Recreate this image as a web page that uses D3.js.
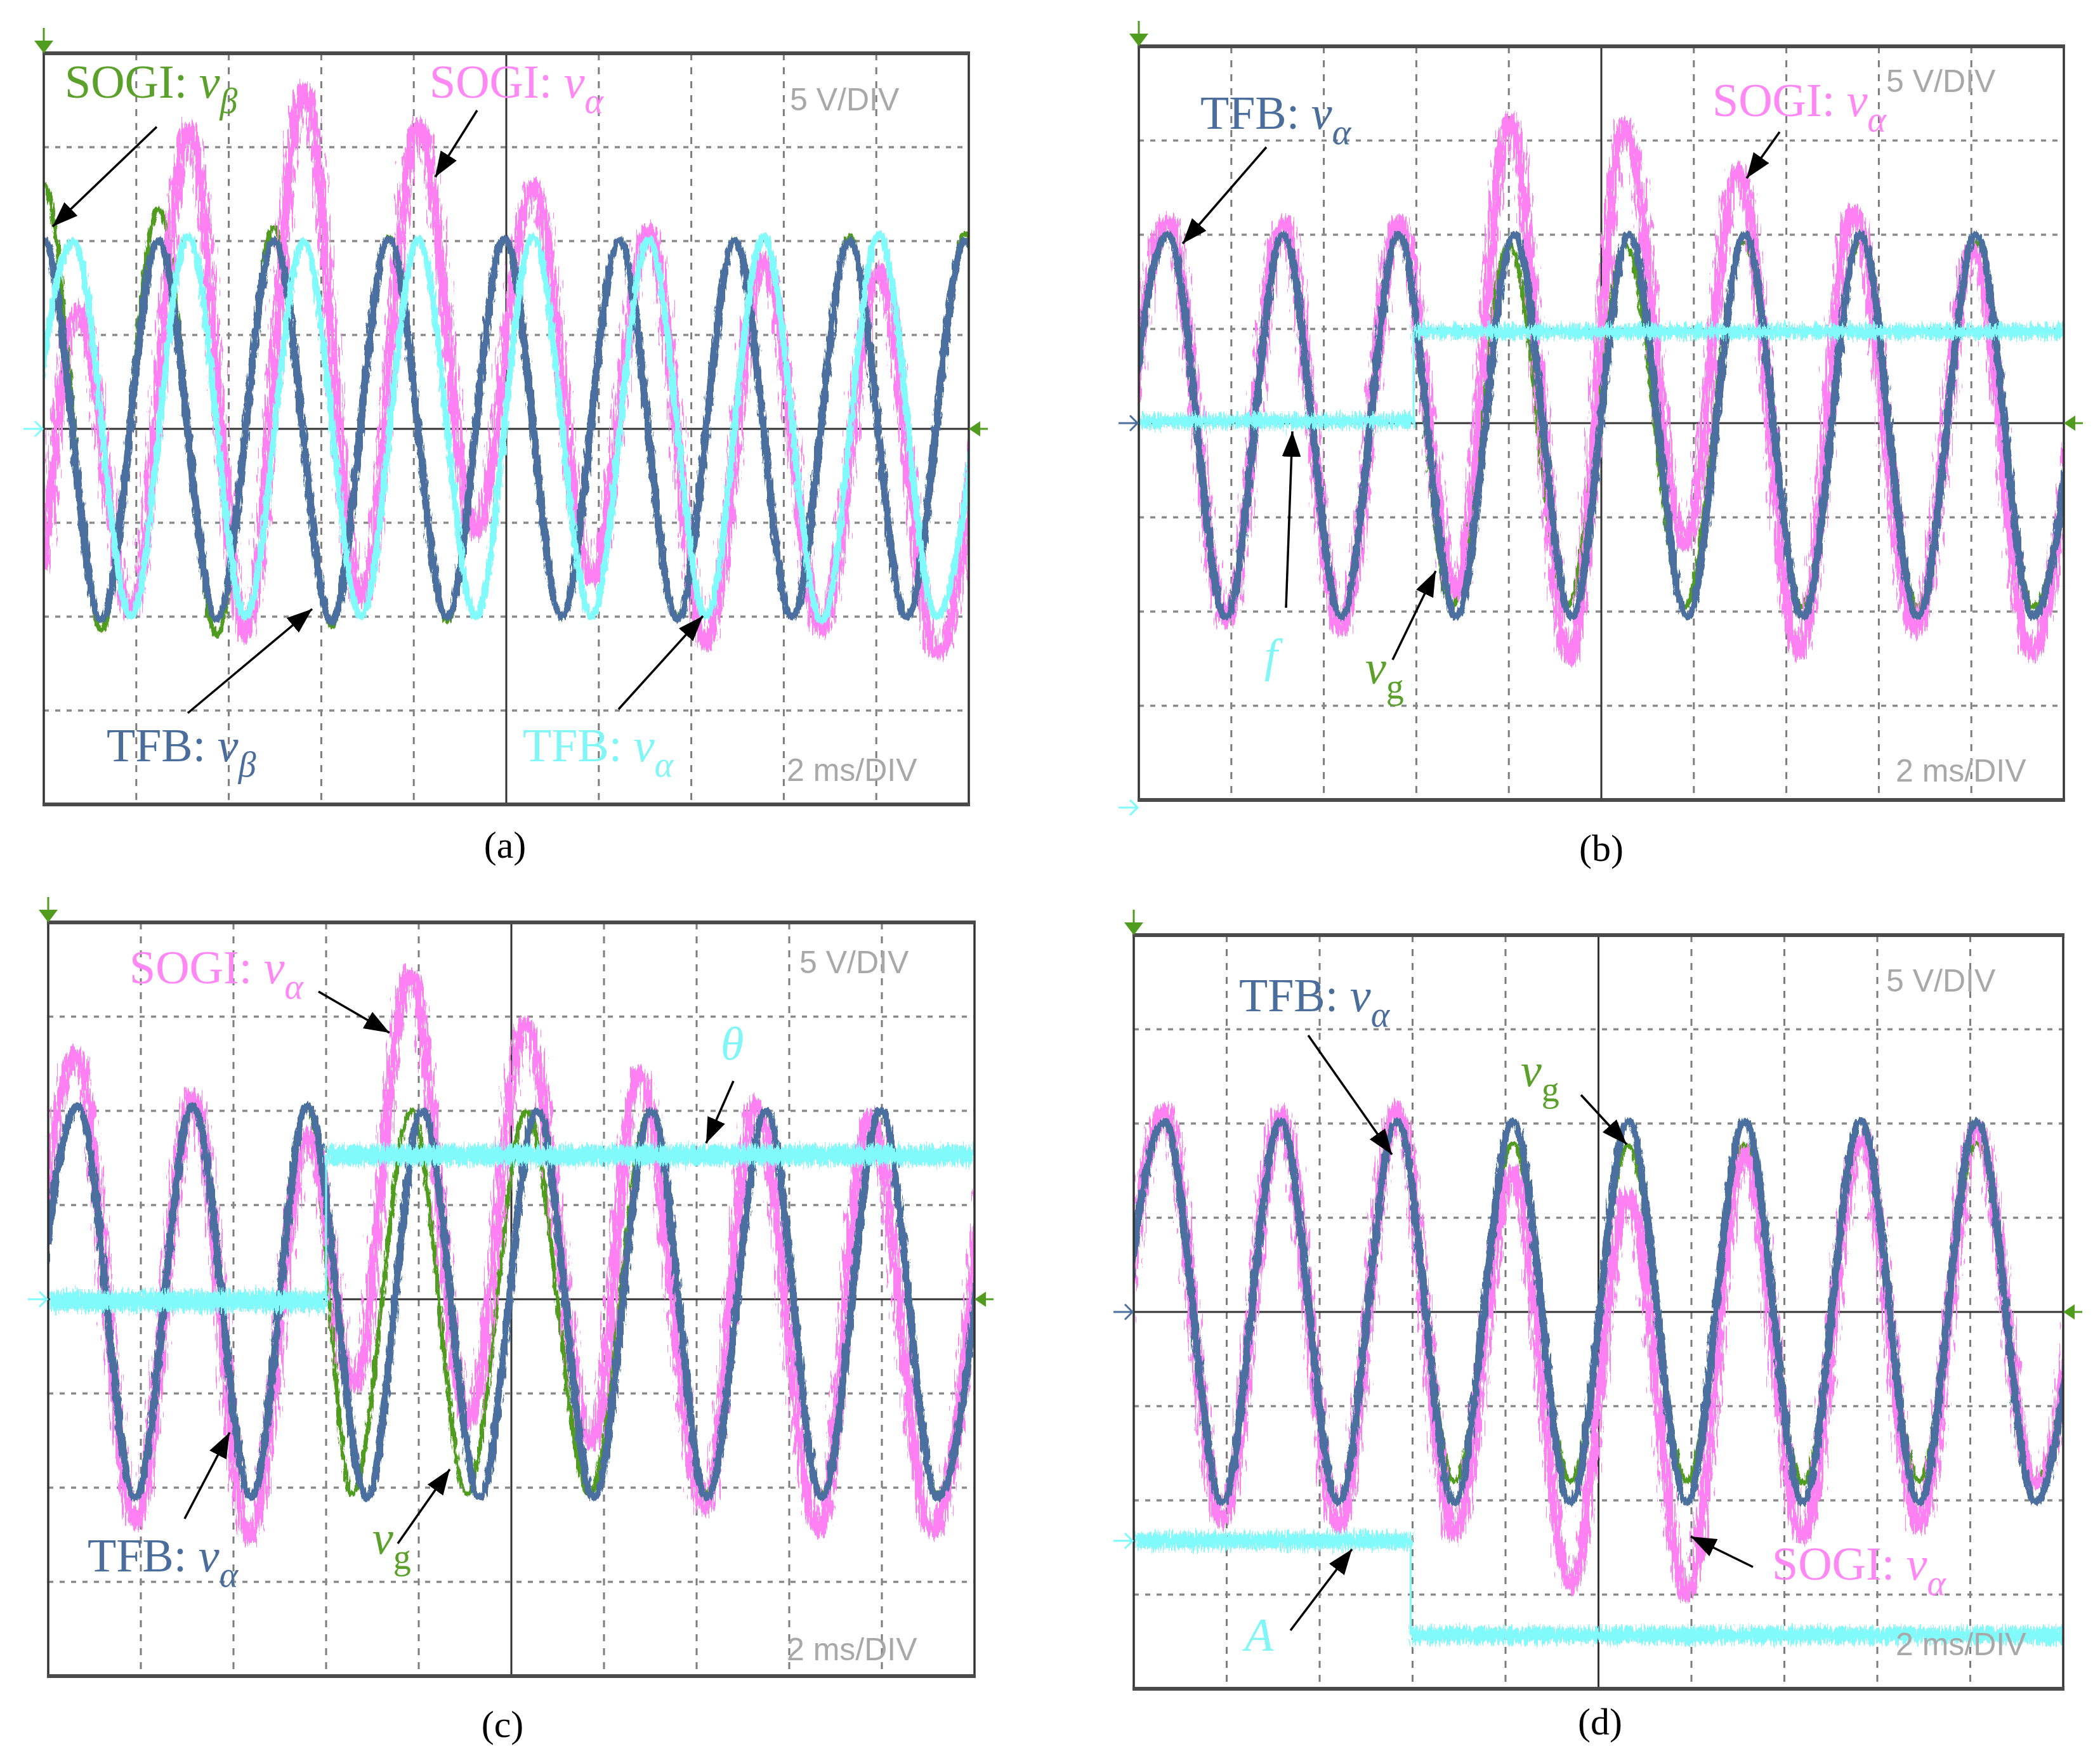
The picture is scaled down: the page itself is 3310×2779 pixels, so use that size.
<!DOCTYPE html>
<html>
<head>
<meta charset="utf-8">
<script src="https://cdn.jsdelivr.net/npm/d3@7"></script>
<style>
  body { margin: 0; background: #fff; }
</style>
</head>
<body>
<svg id="fig" width="3310" height="2779"></svg>
<script>
// ---- trace data, in scope divisions (x: 0..10 div, y: -4..4 div) ----
// each sine-like trace is given by its extrema

// (a)
const aBlueT = [-0.62, 0, 0.62, 1.24, 1.87, 2.49, 3.11, 3.73, 4.36, 4.98, 5.6, 6.22, 6.85, 7.47, 8.09, 8.71, 9.33, 9.96, 10.58];
const aBlueV = [-2, 2, -2.03, 2, -2.02, 2, -2.05, 2.02, -2, 2.02, -2, 2, -2.02, 2, -2, 2, -2, 2, -2];
const aGreenV = [-2.1, 2.6, -2.15, 2.35, -2.2, 2.15, -2.1, 2.05, -2.05, 2.02, -2.02, 2, -2, 2.02, -2, 2.05, -2, 2.08, -2];
const aCyanT = [-0.31, 0.32, 0.94, 1.56, 2.18, 2.81, 3.43, 4.05, 4.67, 5.29, 5.92, 6.54, 7.16, 7.78, 8.41, 9.03, 9.65, 10.27];
const aCyanV = [-2, 2, -2, 2.05, -2, 2, -2, 2.02, -2, 2.05, -2, 2.02, -2, 2.05, -2.05, 2.08, -2, 2];
const aPinkT = [0, 0.37, 0.94, 1.57, 2.18, 2.81, 3.43, 4.05, 4.67, 5.29, 5.92, 6.54, 7.16, 7.78, 8.41, 9.03, 9.65, 10.27];
const aPinkV = [-1.5, 1.28, -1.95, 3.21, -2.2, 3.63, -1.85, 3.24, -1.1, 2.6, -1.6, 2.12, -2.3, 1.82, -2.15, 1.7, -2.4, 1.7];

// (b)
const bBlueT = [-0.31, 0.315, 0.94, 1.56, 2.19, 2.81, 3.43, 4.06, 4.68, 5.3, 5.93, 6.55, 7.18, 7.8, 8.42, 9.05, 9.67, 10.29];
const bBlueV = [-2.05, 2, -2.05, 2, -2.05, 2, -2.05, 2, -2.05, 2, -2.05, 2, -2.05, 2, -2.05, 2, -2.05, 2];
const bGreenT = [-0.31, 0.315, 0.94, 1.56, 2.19, 2.81, 3.38, 4.0, 4.63, 5.26, 5.9, 6.53, 7.17, 7.8, 8.42, 9.05, 9.67, 10.29];
const bGreenV = [-2.05, 2, -2.05, 2, -2.05, 2, -1.95, 1.9, -1.95, 1.9, -1.95, 1.92, -1.95, 1.92, -1.95, 1.92, -1.95, 1.92];
const bPinkT = [-0.31, 0.315, 0.94, 1.56, 2.19, 2.81, 3.43, 4.01, 4.66, 5.25, 5.9, 6.48, 7.14, 7.72, 8.4, 9.02, 9.65, 10.27];
const bPinkV = [-2.1, 2.15, -2.12, 2.15, -2.2, 2.15, -1.8, 3.23, -2.5, 3.17, -1.3, 2.69, -2.45, 2.27, -2.2, 1.86, -2.45, 1.9];
const bFreqT = [0, 2.97, 2.97, 10];
const bFreqV = [0.02, 0.02, 0.97, 0.97];

// (c)
const cBlueT = [-0.3, 0.32, 0.94, 1.56, 2.19, 2.8, 3.44, 4.04, 4.66, 5.28, 5.89, 6.51, 7.11, 7.75, 8.35, 8.99, 9.6, 10.22];
const cBlueV = [-2.05, 2.05, -2.1, 2.05, -2.1, 2.05, -2.1, 2, -2.1, 2, -2.1, 2, -2.1, 2, -2.1, 2, -2.1, 2];
const cGreenT = [-0.3, 0.32, 0.94, 1.56, 2.19, 2.8, 3.28, 3.92, 4.52, 5.16, 5.84, 6.49, 7.1, 7.74, 8.35, 8.99, 9.6, 10.22];
const cGreenV = [-2.05, 2.05, -2.1, 2.05, -2.1, 2.05, -2.07, 2, -2.07, 2, -2.07, 2, -2.07, 2, -2.07, 2, -2.07, 2];
const cPinkT = [-0.33, 0.3, 0.94, 1.56, 2.17, 2.81, 3.3, 3.9, 4.54, 5.15, 5.87, 6.37, 7.09, 7.63, 8.32, 8.87, 9.54, 10.15];
const cPinkV = [-2.3, 2.62, -2.37, 2.16, -2.54, 1.75, -0.93, 3.46, -1.31, 2.93, -1.52, 2.41, -2.24, 2.08, -2.45, 1.96, -2.47, 2.0];
const cThetaT = [0, 3.0, 3.0, 10];
const cThetaV = [-0.02, -0.02, 1.53, 1.53];

// (d)
const dBlueT = [-0.3, 0.33, 0.95, 1.58, 2.2, 2.83, 3.45, 4.08, 4.7, 5.32, 5.95, 6.57, 7.2, 7.82, 8.45, 9.07, 9.7, 10.32];
const dBlueV = [-2.02, 2.02, -2.02, 2.02, -2.02, 2.02, -2.02, 2.02, -2.02, 2.02, -2.02, 2.02, -2.02, 2.02, -2.02, 2.02, -2.02, 2.02];
const dGreenV = [-2.02, 2.02, -2.02, 2.02, -2.02, 2.02, -1.8, 1.79, -1.8, 1.77, -1.8, 1.78, -1.82, 1.8, -1.8, 1.8, -1.8, 1.8];
const dPinkV = [-2.2, 2.15, -2.23, 2.12, -2.3, 2.18, -2.37, 1.5, -2.91, 1.25, -3.01, 1.7, -2.4, 1.85, -2.28, 1.97, -1.85, 2.0];
const dAmpT = [0, 2.98, 2.98, 10];
const dAmpV = [-2.43, -2.43, -3.43, -3.43];

const BLUE = "#4b6f9e", PINK = "#ff80f2", CYAN = "#80fafa", GREEN = "#4f9c1e";
const GRAY = "#a8a8a8", BLUE_T = "#4a6d9c", PINK_T = "#ff88f5", CYAN_T = "#80f6f6", GREEN_T = "#5aa02a";

const svg = d3.select("#fig");
const defs = svg.append("defs");

// arrow head
defs.append("marker")
    .attr("id", "ah")
    .attr("viewBox", "0 0 10 10")
    .attr("refX", 10).attr("refY", 5)
    .attr("markerWidth", 40).attr("markerHeight", 30)
    .attr("markerUnits", "userSpaceOnUse")
    .attr("preserveAspectRatio", "none")
    .attr("orient", "auto")
    .append("path").attr("d", "M0,0 L10,5 L0,10 z").attr("fill", "#000");

// scope noise, a displacement of the stroke
function noiseFilter(id, freq, scale, seed) {
    const f = defs.append("filter").attr("id", id)
        .attr("filterUnits", "userSpaceOnUse")
        .attr("x", 0).attr("y", 0).attr("width", 3310).attr("height", 2779)
        .attr("color-interpolation-filters", "sRGB");
    f.append("feTurbulence").attr("type", "fractalNoise")
        .attr("baseFrequency", freq).attr("numOctaves", 2).attr("seed", seed).attr("result", "n");
    f.append("feDisplacementMap").attr("in", "SourceGraphic").attr("in2", "n")
        .attr("scale", scale).attr("xChannelSelector", "R").attr("yChannelSelector", "G");
}
noiseFilter("nzH", "0.35 0.03", 32, 3);
noiseFilter("nzL", "0.3 0.05", 10, 7);
noiseFilter("nzB", "0.45 0.05", 30, 11);

const panels = [
    {
        key: "a", x0: 69, y0: 84, w: 1458, h: 1184,
        sines: [
            { t: aBlueT, v: aGreenV, color: GREEN, width: 7, f: "nzL" },
            { t: aPinkT, v: aPinkV, color: PINK, width: 17, f: "nzH" },
            { t: aBlueT, v: aBlueV, color: BLUE, width: 12, f: "nzL" },
            { t: aCyanT, v: aCyanV, color: CYAN, width: 10, f: "nzL" }
        ],
        leftMarks: [{ v: 0, color: CYAN }]
    },
    {
        key: "b", x0: 1795, y0: 73, w: 1458, h: 1188,
        sines: [
            { t: bGreenT, v: bGreenV, color: GREEN, width: 7, f: "nzL" },
            { t: bPinkT, v: bPinkV, color: PINK, width: 17, f: "nzH" },
            { t: bBlueT, v: bBlueV, color: BLUE, width: 12, f: "nzL" }
        ],
        band: { t: bFreqT, v: bFreqV, width: 20 },
        leftMarks: [{ v: 0, color: BLUE }, { v: -4.08, color: CYAN }]
    },
    {
        key: "c", x0: 76, y0: 1454, w: 1460, h: 1188,
        sines: [
            { t: cGreenT, v: cGreenV, color: GREEN, width: 7, f: "nzL" },
            { t: cPinkT, v: cPinkV, color: PINK, width: 17, f: "nzH" },
            { t: cBlueT, v: cBlueV, color: BLUE, width: 12, f: "nzL" }
        ],
        band: { t: cThetaT, v: cThetaV, width: 30 },
        leftMarks: [{ v: 0, color: CYAN }]
    },
    {
        key: "d", x0: 1787, y0: 1474, w: 1465, h: 1188,
        sines: [
            { t: dBlueT, v: dGreenV, color: GREEN, width: 7, f: "nzL" },
            { t: dBlueT, v: dPinkV, color: PINK, width: 17, f: "nzH" },
            { t: dBlueT, v: dBlueV, color: BLUE, width: 12, f: "nzL" }
        ],
        band: { t: dAmpT, v: dAmpV, width: 24 },
        leftMarks: [{ v: 0, color: BLUE }, { v: -2.43, color: CYAN }]
    }
];

// labels (absolute page positions, baselines)
const labels = [
    { x: 102, y: 154, color: GREEN_T, parts: [["SOGI: "], ["v", 1], ["β", 1, 1]] },
    { x: 677, y: 154, color: PINK_T, parts: [["SOGI: "], ["v", 1], ["α", 1, 1]] },
    { x: 168, y: 1200, color: BLUE_T, parts: [["TFB: "], ["v", 1], ["β", 1, 1]] },
    { x: 824, y: 1200, color: CYAN_T, parts: [["TFB: "], ["v", 1], ["α", 1, 1]] },

    { x: 1892, y: 203, color: BLUE_T, parts: [["TFB: "], ["v", 1], ["α", 1, 1]] },
    { x: 2699, y: 183, color: PINK_T, parts: [["SOGI: "], ["v", 1], ["α", 1, 1]] },
    { x: 1993, y: 1058, color: CYAN_T, parts: [["f", 1]] },
    { x: 2152, y: 1077, color: GREEN_T, parts: [["v", 1], ["g", 0, 1]] },

    { x: 204, y: 1550, color: PINK_T, parts: [["SOGI: "], ["v", 1], ["α", 1, 1]] },
    { x: 1136, y: 1670, color: CYAN_T, parts: [["θ", 1]] },
    { x: 138, y: 2477, color: BLUE_T, parts: [["TFB: "], ["v", 1], ["α", 1, 1]] },
    { x: 587, y: 2449, color: GREEN_T, parts: [["v", 1], ["g", 0, 1]] },

    { x: 1953, y: 1594, color: BLUE_T, parts: [["TFB: "], ["v", 1], ["α", 1, 1]] },
    { x: 2397, y: 1712, color: GREEN_T, parts: [["v", 1], ["g", 0, 1]] },
    { x: 1962, y: 2602, color: CYAN_T, parts: [["A", 1]] },
    { x: 2793, y: 2490, color: PINK_T, parts: [["SOGI: "], ["v", 1], ["α", 1, 1]] }
];

const scaleTexts = [
    { x: 1245, y: 174, s: "5 V/DIV" }, { x: 1240, y: 1231, s: "2 ms/DIV" },
    { x: 2973, y: 145, s: "5 V/DIV" }, { x: 2988, y: 1232, s: "2 ms/DIV" },
    { x: 1260, y: 1534, s: "5 V/DIV" }, { x: 1240, y: 2617, s: "2 ms/DIV" },
    { x: 2973, y: 1563, s: "5 V/DIV" }, { x: 2988, y: 2609, s: "2 ms/DIV" }
];

const arrows = [
    [247, 200, 83, 357], [752, 174, 686, 279], [296, 1124, 492, 960], [975, 1118, 1108, 971],
    [1996, 232, 1864, 384], [2805, 208, 2753, 281], [2027, 958, 2037, 680], [2195, 1040, 2263, 900],
    [502, 1563, 614, 1628], [1156, 1704, 1113, 1802], [291, 2394, 362, 2258], [627, 2433, 709, 2316],
    [2062, 1632, 2194, 1820], [2492, 1726, 2564, 1804], [2034, 2570, 2131, 2442], [2763, 2470, 2665, 2422]
];

const captions = [
    { x: 796, y: 1352, s: "(a)" }, { x: 2524, y: 1357, s: "(b)" },
    { x: 792, y: 2738, s: "(c)" }, { x: 2522, y: 2734, s: "(d)" }
];

function drawPanel(p) {
    const x = d3.scaleLinear().domain([0, 10]).range([p.x0, p.x0 + p.w]);
    const y = d3.scaleLinear().domain([-4, 4]).range([p.y0 + p.h, p.y0]);
    const g = svg.append("g").attr("class", "panel-" + p.key);

    defs.append("clipPath").attr("id", "clip-" + p.key)
        .append("rect").attr("x", x(0)).attr("y", y(4))
        .attr("width", x(10) - x(0)).attr("height", y(-4) - y(4));

    // grid
    g.selectAll(null).data(d3.range(1, 10).filter(i => i !== 5)).join("line")
        .attr("x1", d => x(d)).attr("x2", d => x(d))
        .attr("y1", y(4)).attr("y2", y(-4))
        .attr("stroke", "#7d7d7d").attr("stroke-width", 3)
        .attr("stroke-dasharray", "11 11");
    g.selectAll(null).data(d3.range(-3, 4).filter(j => j !== 0)).join("line")
        .attr("x1", x(0)).attr("x2", x(10))
        .attr("y1", d => y(d)).attr("y2", d => y(d))
        .attr("stroke", "#8a8a8a").attr("stroke-width", 3.5)
        .attr("stroke-dasharray", "8 10");
    g.append("line").attr("x1", x(5)).attr("x2", x(5)).attr("y1", y(4)).attr("y2", y(-4))
        .attr("stroke", "#333").attr("stroke-width", 3);
    g.append("line").attr("x1", x(0)).attr("x2", x(10)).attr("y1", y(0)).attr("y2", y(0))
        .attr("stroke", "#333").attr("stroke-width", 3);

    // traces
    const tg = g.append("g").attr("clip-path", `url(#clip-${p.key})`);
    const line = d3.line().x(d => x(d[0])).y(d => y(d[1])).curve(d3.curveMonotoneX);
    p.sines.forEach(s => {
        tg.append("path")
            .attr("d", line(d3.zip(s.t, s.v)))
            .attr("fill", "none")
            .attr("stroke", s.color)
            .attr("stroke-width", s.width)
            .attr("stroke-linejoin", "round")
            .attr("filter", `url(#${s.f})`);
    });

    // cyan step trace: thick flat parts, thin jump
    if (p.band) {
        const pts = d3.zip(p.band.t, p.band.v);
        const bg = tg.append("g");
        d3.pairs(pts).forEach(([a, b]) => {
            const flat = a[0] !== b[0];
            bg.append("line")
                .attr("x1", x(a[0])).attr("y1", y(a[1]))
                .attr("x2", x(b[0])).attr("y2", y(b[1]))
                .attr("stroke", CYAN)
                .attr("stroke-width", flat ? p.band.width : 3)
                .attr("filter", flat ? "url(#nzB)" : null);
        });
    }

    // frame
    g.append("rect").attr("x", x(0)).attr("y", y(4))
        .attr("width", x(10) - x(0)).attr("height", y(-4) - y(4))
        .attr("fill", "none").attr("stroke", "#333").attr("stroke-width", 3.5);
    [4, -4].forEach(v => g.append("line")
        .attr("x1", x(0) - 2).attr("x2", x(10) + 2).attr("y1", y(v)).attr("y2", y(v))
        .attr("stroke", "#4a4a4a").attr("stroke-width", 6));

    // channel markers: trigger (top), level (right), channel offsets (left)
    const tx = x(0), ty = y(4);
    g.append("line").attr("x1", tx).attr("x2", tx).attr("y1", ty - 40).attr("y2", ty - 10)
        .attr("stroke", GREEN).attr("stroke-width", 3);
    g.append("path").attr("d", `M${tx - 15},${ty - 20} L${tx + 15},${ty - 20} L${tx},${ty} z`)
        .attr("fill", GREEN);
    const rx = x(10), ry = y(0);
    g.append("path").attr("d", `M${rx},${ry} L${rx + 18},${ry - 12} L${rx + 18},${ry + 12} z`)
        .attr("fill", GREEN);
    g.append("line").attr("x1", rx + 10).attr("x2", rx + 30).attr("y1", ry).attr("y2", ry)
        .attr("stroke", GREEN).attr("stroke-width", 3);
    p.leftMarks.forEach(m => {
        const my = y(m.v), mx = x(0);
        g.append("path")
            .attr("d", `M${mx - 32},${my} L${mx - 2},${my} M${mx - 14},${my - 12} L${mx - 2},${my} L${mx - 14},${my + 12}`)
            .attr("fill", "none").attr("stroke", m.color).attr("stroke-width", 3);
    });
}

panels.forEach(drawPanel);

// text labels
labels.forEach(L => {
    const t = svg.append("text")
        .attr("x", L.x).attr("y", L.y)
        .attr("fill", L.color)
        .attr("font-family", "'Liberation Serif', 'DejaVu Serif', serif")
        .attr("font-size", 74);
    L.parts.forEach(([s, it, sub]) => {
        const ts = t.append("tspan").text(s);
        if (it) ts.attr("font-style", "italic");
        if (sub) ts.attr("font-size", 56).attr("dy", 24);
    });
});

svg.selectAll(null).data(scaleTexts).join("text")
    .attr("x", d => d.x).attr("y", d => d.y)
    .attr("fill", GRAY)
    .attr("font-family", "'Liberation Sans', Arial, sans-serif")
    .attr("font-size", 50)
    .text(d => d.s);

svg.selectAll(null).data(arrows).join("line")
    .attr("x1", d => d[0]).attr("y1", d => d[1])
    .attr("x2", d => d[2]).attr("y2", d => d[3])
    .attr("stroke", "#000").attr("stroke-width", 3.5)
    .attr("marker-end", "url(#ah)");

svg.selectAll(null).data(captions).join("text")
    .attr("x", d => d.x).attr("y", d => d.y)
    .attr("text-anchor", "middle")
    .attr("fill", "#000")
    .attr("font-family", "'Liberation Serif', serif")
    .attr("font-size", 60)
    .text(d => d.s);
</script>
</body>
</html>
